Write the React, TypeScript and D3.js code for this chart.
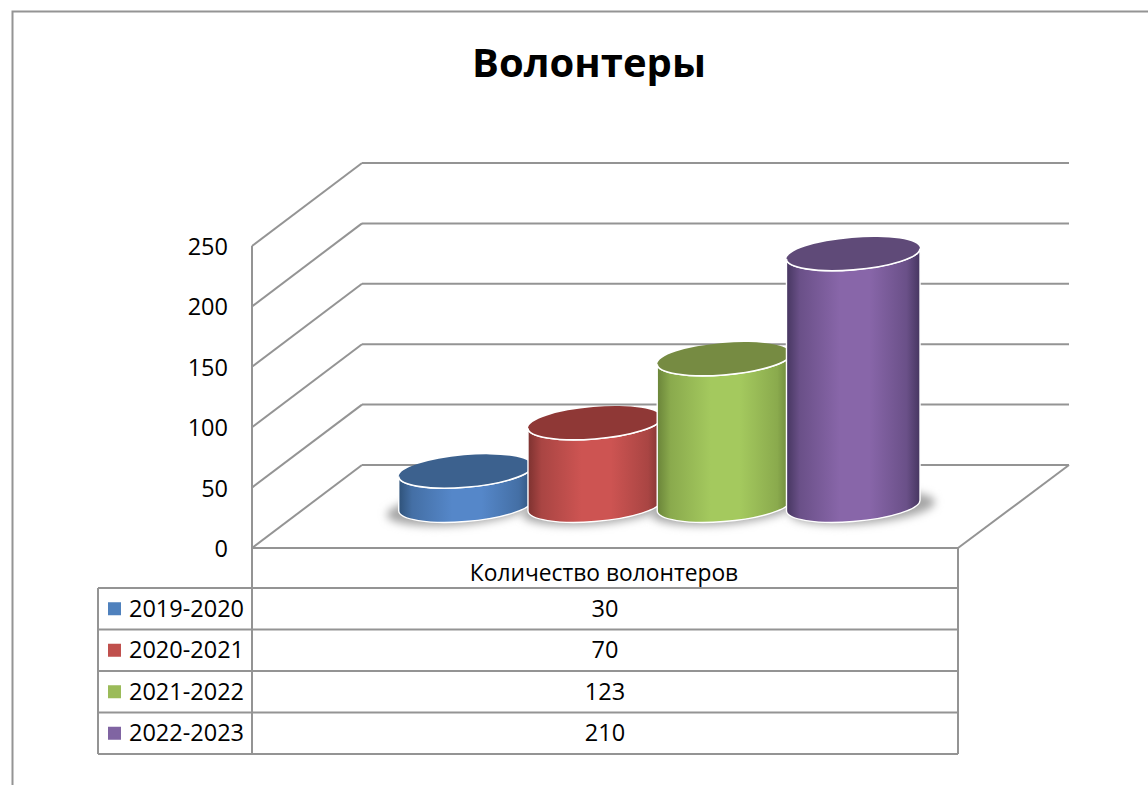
import React from "react";
import * as d3 from "d3";

const title = "Волонтеры";
const categoryLabel = "Количество волонтеров";
const seasons = ["2019-2020", "2020-2021", "2021-2022", "2022-2023"];
const volunteers = [30, 70, 123, 210];
const axisTicks = [0, 50, 100, 150, 200, 250];
const midColors = ["#5587c9", "#cd5452", "#a4c95e", "#8866a9"];
const edgeColors = ["#2f5279", "#7d3230", "#6a8439", "#463660"];
const topColors = ["#3c618e", "#8f3836", "#768b42", "#5f4a78"];
const swatchColors = ["#4f81bd", "#c0504d", "#9bbb59", "#8064a2"];

const FONT = "'Open Sans', 'Noto Sans', sans-serif";
const LINE = "#949494";

const y = d3.scaleLinear().domain([0, 250]).range([548, 246]);
const depthX = 110;
const depthY = -83;
const frontLeft = 252;
const frontRight = 958;

const x = d3.scaleBand<string>().domain(seasons).range([398.5, 915.5]).padding(0);
const rowY = d3.scaleBand<string>().domain(seasons).range([588, 754]).padding(0);

const rx = 67;
const ry = 16;
const tiltDeg = -4.8;
const baseCy = 505.5;
const topShift = 2;

function cylinderPath(cx: number, topCy: number, botCy: number) {
  const th = (tiltDeg * Math.PI) / 180;
  const t0 = Math.atan(-(ry / rx) * Math.tan(th));
  const dx = rx * Math.cos(t0) * Math.cos(th) - ry * Math.sin(t0) * Math.sin(th);
  const dy = rx * Math.cos(t0) * Math.sin(th) + ry * Math.sin(t0) * Math.cos(th);
  const arc = (tx: number, ty: number, sweep: number) =>
    `A${rx} ${ry} ${tiltDeg} 0 ${sweep} ${tx} ${ty}`;
  return {
    side:
      `M${cx - dx} ${topCy - dy}L${cx - dx} ${botCy - dy}` +
      arc(cx + dx, botCy + dy, 0) +
      `L${cx + dx} ${topCy + dy}` +
      arc(cx - dx, topCy - dy, 1) +
      "Z",
    lowerTop: `M${cx - dx} ${topCy - dy}` + arc(cx + dx, topCy + dy, 0),
  };
}

export default function App() {
  return (
    <svg
      width={1148}
      height={785}
      viewBox="0 0 1148 785"
      style={{ position: "absolute", left: 0, top: 0, display: "block", background: "#fff" }}
      fontFamily={FONT}
    >
      <defs>
        <filter id="shadowBlur" x="-30%" y="-100%" width="160%" height="300%">
          <feGaussianBlur stdDeviation="4" />
        </filter>
        {seasons.map((s, i) => {
          const mix = d3.interpolateRgb(edgeColors[i], midColors[i]);
          return (
            <linearGradient key={s} id={`grad${i}`} x1="0" x2="1" y1="0" y2="0">
              <stop offset="0" stopColor={edgeColors[i]} />
              <stop offset="0.1" stopColor={mix(0.55)} />
              <stop offset="0.4" stopColor={midColors[i]} />
              <stop offset="0.62" stopColor={midColors[i]} />
              <stop offset="0.9" stopColor={mix(0.55)} />
              <stop offset="1" stopColor={edgeColors[i]} />
            </linearGradient>
          );
        })}
      </defs>

      <path d="M1148 11.5H12.5V785" fill="none" stroke={LINE} strokeWidth={2} />

      <text x={589} y={77} textAnchor="middle" fontSize={40} fontWeight={700} fill="#000">
        {title}
      </text>

      {axisTicks.map((t) => (
        <g key={t} stroke={LINE} strokeWidth={2} fill="none">
          <line x1={frontLeft} y1={y(t)} x2={frontLeft + depthX} y2={y(t) + depthY} />
          <line x1={frontLeft + depthX} y1={y(t) + depthY} x2={frontRight + depthX + 1} y2={y(t) + depthY} />
        </g>
      ))}
      <line x1={frontLeft} y1={y(250)} x2={frontLeft} y2={rowY.range()[1]} stroke={LINE} strokeWidth={2} />
      <line x1={frontLeft} y1={y(0)} x2={frontRight} y2={y(0)} stroke={LINE} strokeWidth={2} />
      <line x1={frontRight} y1={y(0)} x2={frontRight + depthX + 1} y2={y(0) + depthY} stroke={LINE} strokeWidth={2} />

      {axisTicks.map((t) => (
        <text key={t} x={228} y={y(t) + 9} textAnchor="end" fontSize={23.5} fill="#000">
          {t}
        </text>
      ))}

      {seasons.map((s, i) => {
        const cx = x(s)! + rx;
        return (
          <ellipse
            key={s}
            cx={cx + (i === 3 ? 9 : i === 0 ? -6 : 0)}
            cy={baseCy + 3}
            rx={rx + 6}
            ry={ry}
            transform={`rotate(${tiltDeg} ${cx} ${baseCy + 3})`}
            fill="#a6a6a6"
            filter="url(#shadowBlur)"
          />
        );
      })}

      {seasons.map((s, i) => {
        const cx = x(s)! + rx;
        const h = y(0) - y(volunteers[i]);
        const topCy = baseCy + topShift - h;
        const { side, lowerTop } = cylinderPath(cx, topCy, baseCy);
        return (
          <g key={s}>
            <path d={side} fill={`url(#grad${i})`} stroke="#ffffff" strokeWidth={1.4} />
            <ellipse
              cx={cx}
              cy={topCy}
              rx={rx}
              ry={ry}
              transform={`rotate(${tiltDeg} ${cx} ${topCy})`}
              fill={topColors[i]}
            />
            <path d={lowerTop} fill="none" stroke="#ffffff" strokeWidth={1.6} />
          </g>
        );
      })}

      <g stroke={LINE} strokeWidth={2} fill="none">
        <line x1={frontRight} y1={y(0)} x2={frontRight} y2={rowY.range()[1]} />
        <line x1={98} y1={rowY.range()[0]} x2={frontRight} y2={rowY.range()[0]} />
        {seasons.map((s) => (
          <line key={s} x1={98} y1={rowY(s)! + rowY.bandwidth()} x2={frontRight} y2={rowY(s)! + rowY.bandwidth()} />
        ))}
        <line x1={98} y1={rowY.range()[0]} x2={98} y2={rowY.range()[1]} />
      </g>

      <text x={604} y={581} textAnchor="middle" fontSize={22.8} fill="#000">
        {categoryLabel}
      </text>

      {seasons.map((s, i) => {
        const cy = rowY(s)! + rowY.bandwidth() / 2;
        return (
          <g key={s}>
            <rect x={108} y={cy - 6.5} width={13} height={13} fill={swatchColors[i]} />
            <text x={129} y={cy + 8} fontSize={23.5} fill="#000">
              {s}
            </text>
            <text x={605} y={cy + 8} textAnchor="middle" fontSize={23.5} fill="#000">
              {volunteers[i]}
            </text>
          </g>
        );
      })}
    </svg>
  );
}
